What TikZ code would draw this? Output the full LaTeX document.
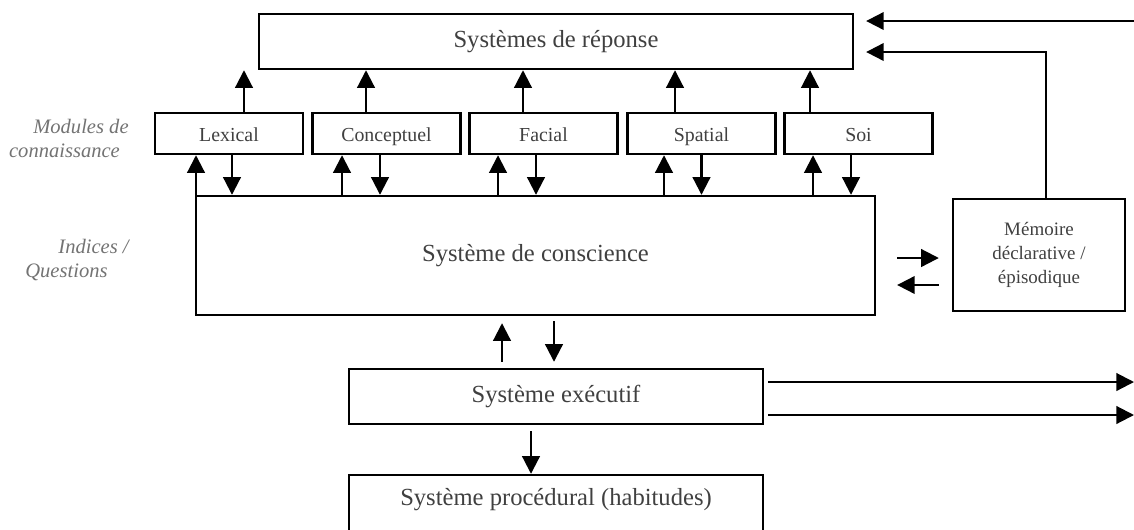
\documentclass[tikz,border=0pt]{standalone}
\usepackage{fontspec}
\setmainfont{Liberation Serif}
\usetikzlibrary{arrows.meta, positioning}

\begin{document}
\begin{tikzpicture}[x=0.02cm, y=-0.02cm]
        % Setup the styles for the boxes and arrows
        \tikzset{box/.style={draw, line width=1.4pt, text=black!75, inner sep=0pt},
                 big box/.style={box, minimum width=11.88cm, minimum height=1.1cm,
                                 font=\fontsize{14}{16}\selectfont},
                 module box/.style={box, minimum width=2.96cm, minimum height=0.82cm,
                                    text height=10pt, text depth=0.5pt,
                                    font=\fontsize{11.3}{13}\selectfont},
                 side label/.style={anchor=east, align=right, inner sep=0pt, text=black!55,
                                    font=\fontsize{11.7}{14}\selectfont\itshape},
                 arr/.style={-{Triangle[length=10pt,width=10pt]}, line width=1.2pt}}

        \useasboundingbox (0,0) rectangle (1134,529);

        % Draw the boxes
        \node[big box] at (556,41.5) (reponse) {Systèmes de réponse};
        \node[module box] at (229,133.5)   (lexical)    {Lexical};
        \node[module box] at (386.5,133.5) (conceptuel) {Conceptuel};
        \node[module box] at (543.5,133.5) (facial)     {Facial};
        \node[module box] at (701.5,133.5) (spatial)    {Spatial};
        \node[module box] at (858.5,133.5) (soi)        {Soi};
        \node[big box, minimum width=13.58cm, minimum height=2.38cm] at (535.5,255.5) (conscience) {Système de conscience};
        \node[box, minimum width=3.44cm, minimum height=2.24cm, align=center,
              font=\fontsize{10.8}{13.5}\selectfont] at (1039,255) (memoire) {Mémoire\\déclarative /\\épisodique};
        \node[big box, minimum width=8.28cm] at (556,396.5) (executif) {Système exécutif};
        \node[big box, minimum width=8.28cm, minimum height=1.4cm,
              text height=0.3cm, text depth=0.5cm] at (556,510) (procedural) {Système procédural (habitudes)};

        % Side labels
        \node[side label] at (129,138.5) (modules) {Modules de\\connaissance\hspace*{5pt}};
        \node[side label] at (129,260)   (indices) {Indices /\\Questions\hspace*{12pt}};

        % Modules up to the response systems
        \foreach \m/\r in {lexical/0.3, conceptuel/-0.41, facial/-0.41, spatial/-0.53, soi/-0.97}
            \draw[arr] ([xshift=\r cm]\m.north) -- ([xshift=\r cm]\m.north |- reponse.south);

        % Modules to and from the awareness system
        \foreach \m/\u/\d in {lexical/-0.66/0.06, conceptuel/-0.89/-0.13, facial/-0.91/-0.15,
                              spatial/-0.75/0, soi/-0.91/-0.15} {
            \draw[arr] ([xshift=\u cm]\m.south |- conscience.north) -- ([xshift=\u cm]\m.south);
            \draw[arr] ([xshift=\d cm]\m.south) -- ([xshift=\d cm]\m.south |- conscience.north);
        }

        % Awareness and executive systems
        \draw[arr, shorten <=0.12cm, shorten >=0.14cm]
            ([xshift=-1.08cm]executif.north) -- ([xshift=-1.08cm]executif.north |- conscience.south);
        \draw[arr, shorten <=0.1cm, shorten >=0.12cm]
            ([xshift=-0.04cm]executif.north |- conscience.south) -- ([xshift=-0.04cm]executif.north);
        \draw[arr, shorten <=0.12cm]
            ([xshift=-0.5cm]executif.south) -- ([xshift=-0.5cm]executif.south |- procedural.north);

        % Awareness and memory
        \draw[arr, shorten <=0.42cm, shorten >=0.26cm]
            ([yshift=-0.05cm]conscience.east) -- ([yshift=-0.05cm]conscience.east -| memoire.west);
        \draw[arr, shorten <=0.26cm, shorten >=0.42cm]
            ([yshift=-0.59cm]conscience.east -| memoire.west) -- ([yshift=-0.59cm]conscience.east);

        % Inputs to the response systems
        \coordinate (entree) at (1134,21);
        \draw[arr, shorten >=0.24cm] (entree) -- (entree -| reponse.east);
        \draw[arr, shorten >=0.24cm] ([xshift=0.14cm]memoire.north) |- ([yshift=-0.21cm]reponse.east);

        % Outputs of the executive system
        \coordinate (sortieA) at (1134,382);
        \coordinate (sortieB) at (1134,415);
        \draw[arr, shorten <=0.08cm] ([yshift=0.29cm]executif.east) -- ([yshift=0.29cm]executif.east -| sortieA);
        \draw[arr, shorten <=0.08cm] ([yshift=-0.37cm]executif.east) -- ([yshift=-0.37cm]executif.east -| sortieB);
\end{tikzpicture}
\end{document}
